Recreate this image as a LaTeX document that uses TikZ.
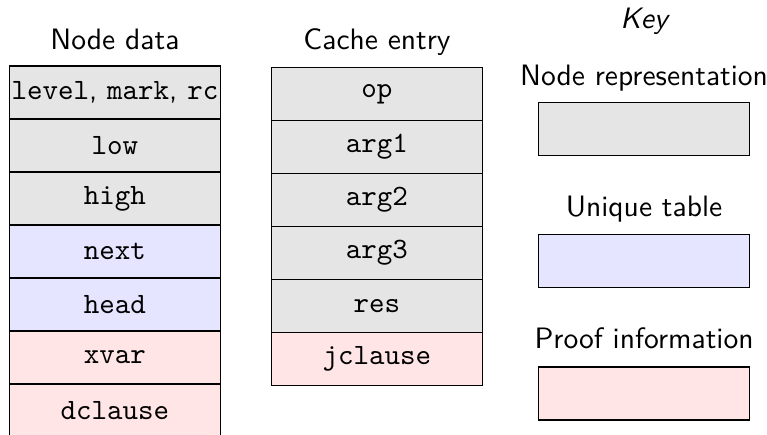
\documentclass[tikz,border=0pt]{standalone}
\usetikzlibrary{positioning}

\colorlet{repcol}{black!10}
\colorlet{uniqcol}{blue!10}
\colorlet{proofcol}{red!10}

\begin{document}
\begin{tikzpicture}[node distance=0.631cm, on grid,
    every node/.style={font=\sffamily},
    field/.style={draw, minimum width=2.52cm, minimum height=0.631cm, inner xsep=0pt, outer sep=0pt, font=\ttfamily},
    heading/.style={anchor=base}]
    \useasboundingbox (0,0) rectangle (9.131,-5.167);

    % node layout
    \node[heading] (ndata) at (1.369,-0.595) {Node data};
    \node[field, fill=repcol, font=\sffamily] (lvl) at (1.369,-1.101) {\texttt{level}, \texttt{mark}, \texttt{rc}};
    \node[field, fill=repcol, below=of lvl] (low) {low};
    \node[field, fill=repcol, below=of low] (high) {high};
    \node[field, fill=uniqcol, below=of high] (next) {next};
    \node[field, fill=uniqcol, below=of next] (head) {head};
    \node[field, fill=proofcol, below=of head] (xvar) {xvar};
    \node[field, fill=proofcol, below=of xvar] (dcl) {dclause};

    % cache layout
    \node[heading] (cache) at (4.488,-0.595) {Cache entry};
    \node[field, fill=repcol] (op) at (4.488,-1.121) {op};
    \node[field, fill=repcol, below=of op] (arg1) {arg1};
    \node[field, fill=repcol, below=of arg1] (arg2) {arg2};
    \node[field, fill=repcol, below=of arg2] (arg3) {arg3};
    \node[field, fill=repcol, below=of arg3] (res) {res};
    \node[field, fill=proofcol, below=of res] (jcl) {jclause};

    % key
    \node[heading, font=\sffamily\itshape] (key) at (7.667,-0.345) {Key};
    \node[field, fill=repcol] (krep) at (7.667,-1.533) {};
    \node[field, fill=uniqcol, below=1.576cm of krep] (kuniq) {};
    \node[field, fill=proofcol, below=1.576cm of kuniq] (kproof) {};
    \node[above=0.521cm of krep, anchor=base] (lrep) {Node representation};
    \node[above=0.529cm of kuniq, anchor=base] (luniq) {Unique table};
    \node[above=0.539cm of kproof, anchor=base] (lproof) {Proof information};
\end{tikzpicture}
\end{document}
